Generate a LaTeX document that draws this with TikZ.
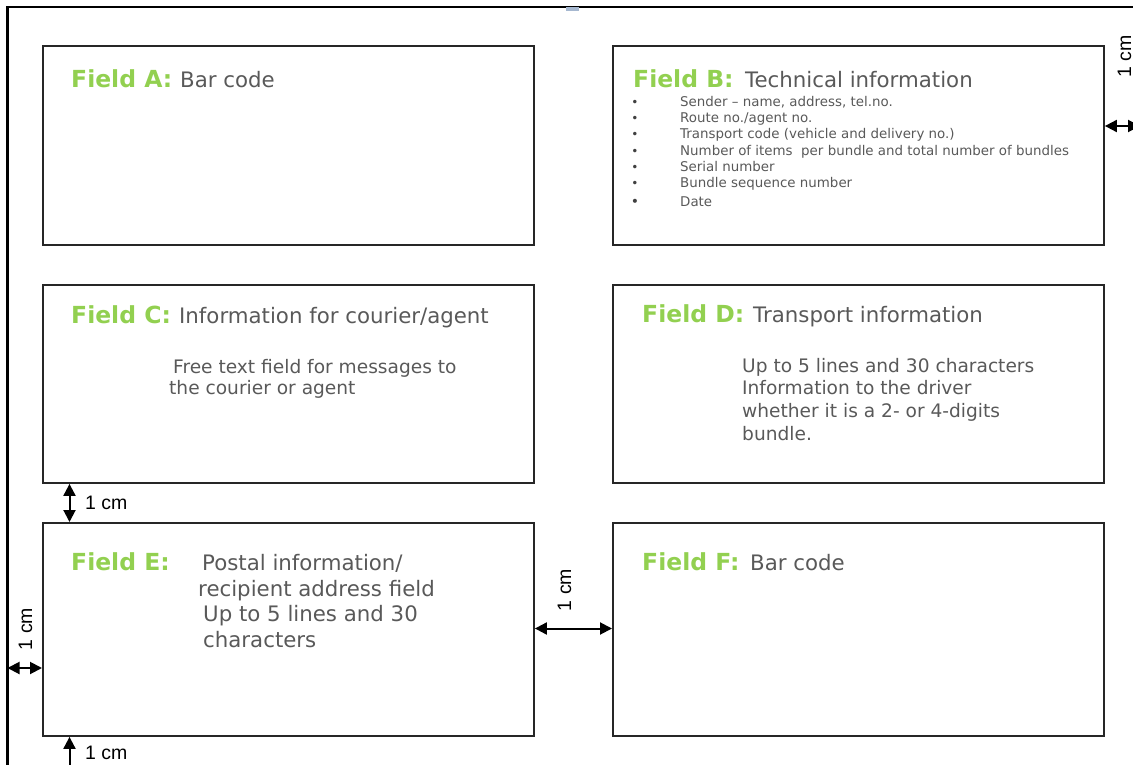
\documentclass[tikz,border=0pt]{standalone}
\usepackage{fontspec}
\setmainfont{DejaVu Sans}
\newfontfamily\arialf{Liberation Sans}
\usetikzlibrary{arrows.meta}
\definecolor{fgreen}{RGB}{146,208,80}
\definecolor{fgray}{RGB}{89,89,89}
\definecolor{anchorblue}{RGB}{166,184,208}
\begin{document}
\begin{tikzpicture}[x=1pt,y=-1pt,
  box/.style={draw=black!85,line width=1.9pt,anchor=north west,minimum width=491pt,inner sep=0pt},
  lbl/.style={anchor=base west,inner sep=0pt,text=fgreen,font=\bfseries\fontsize{23.5}{27}\selectfont},
  head/.style={anchor=base west,inner sep=0pt,text=fgray,font=\fontsize{21.3}{25}\selectfont},
  bodyC/.style={anchor=base west,inner sep=0pt,text=fgray,font=\fontsize{18.6}{22}\selectfont},
  bodyE/.style={anchor=base west,inner sep=0pt,text=fgray,font=\fontsize{21.3}{26}\selectfont},
  litem/.style={anchor=base west,inner sep=0pt,text=fgray,font=\fontsize{13.4}{16}\selectfont},
  bul/.style={anchor=base,inner sep=0pt,text=black!75,font=\fontsize{12}{14}\selectfont},
  dim/.style={line width=2pt,black,{Triangle[length=12pt,width=12pt]}-{Triangle[length=12pt,width=12pt]}},
  dimlbl/.style={inner sep=0pt,text=black,font=\arialf\fontsize{19.5}{22}\selectfont}]
\useasboundingbox (0,0) rectangle (1133,765);

% outer page frame
\coordinate (fr1) at (1145,7);
\coordinate (fr2) at (7.5,7);
\coordinate (fr3) at (7.5,775);
\draw[line width=2.2pt,black] (fr1) -- (fr2) -- (fr3);
\fill[anchorblue] (566,7.5) rectangle (579,11);

% boxes
\node[box,minimum height=199pt] (A) at (42,45) {};
\node[box,minimum height=199pt] (B) at (612,45) {};
\node[box,minimum height=198pt] (C) at (42,284) {};
\node[box,minimum height=198pt] (D) at (612,284) {};
\node[box,minimum height=213pt] (E) at (42,522) {};
\node[box,minimum height=213pt] (F) at (612,522) {};

% Field A
\node[lbl] (Al) at (71,88) {Field A:};
\node[head] (Ah) at (180,88) {Bar code};

% Field B
\node[lbl] (Bl) at (633,88) {Field B:};
\node[head] (Bh) at (745,88) {Technical information};
\node[bul] (bb1) at (635,107) {•}; \node[litem] (b1) at (680,107) {Sender – name, address, tel.no.};
\node[bul] (bb2) at (635,123) {•}; \node[litem] (b2) at (680,123) {Route no./agent no.};
\node[bul] (bb3) at (635,139) {•}; \node[litem] (b3) at (680,139) {Transport code (vehicle and delivery no.)};
\node[bul] (bb4) at (635,155.5) {•}; \node[litem] (b4) at (680,155.5) {Number of items\ \ per bundle and total number of bundles};
\node[bul] (bb5) at (635,171.5) {•}; \node[litem] (b5) at (680,171.5) {Serial number};
\node[bul] (bb6) at (635,187.5) {•}; \node[litem] (b6) at (680,187.5) {Bundle sequence number};
\node[bul,font=\fontsize{14}{16}\selectfont] (bb7) at (635,207) {•}; \node[litem] (b7) at (680,207) {Date};

% Field C
\node[lbl] (Cl) at (71,323) {Field C:};
\node[head] (Ch) at (179,323) {Information for courier/agent};
\node[bodyC] (c1) at (173,373) {Free text field for messages to};
\node[bodyC] (c2) at (169,394.5) {the courier or agent};

% Field D
\node[lbl] (Dl) at (642,322.5) {Field D:};
\node[head] (Dh) at (753,322.5) {Transport information};
\node[bodyC] (d1) at (742,372.5) {Up to 5 lines and 30 characters};
\node[bodyC] (d2) at (742,394.5) {Information to the driver};
\node[bodyC] (d3) at (742,417.5) {whether it is a 2- or 4-digits};
\node[bodyC] (d4) at (742,440) {bundle.};

% Field E
\node[lbl] (El) at (71,570) {Field E:};
\node[bodyE] (e1) at (202,570) {Postal information/};
\node[bodyE] (e2) at (198,596) {recipient address field};
\node[bodyE] (e3) at (203,621.5) {Up to 5 lines and 30};
\node[bodyE] (e4) at (203,647) {characters};

% Field F
\node[lbl] (Fl) at (642,570) {Field F:};
\node[head] (Fh) at (750,570) {Bar code};

% dimension arrows
\coordinate (xd) at (69.5,0);
\coordinate (ybot) at (69.5,778);
\coordinate (yl) at (0,668);
\coordinate (ym) at (0,628.5);
\coordinate (yr) at (0,126);
\coordinate (rr) at (1140,126);
\draw[dim] (C.south -| xd) -- (E.north -| xd);
\draw[dim] (E.south -| xd) -- (ybot);
\draw[dim] (fr2 |- yl) -- (E.west |- yl);
\draw[dim] (E.east |- ym) -- (F.west |- ym);
\draw[dim] (B.east |- yr) -- (rr);

\node[dimlbl,anchor=west] (L1) at (85,502.5) {1 cm};
\node[dimlbl,anchor=west] (L2) at (85,753) {1 cm};
\node[dimlbl,rotate=90] (L3) at (25.5,629) {1 cm};
\node[dimlbl,rotate=90] (L4) at (564.5,590) {1 cm};
\node[dimlbl,rotate=90] (L5) at (1124.5,56.5) {1 cm};
\end{tikzpicture}
\end{document}
